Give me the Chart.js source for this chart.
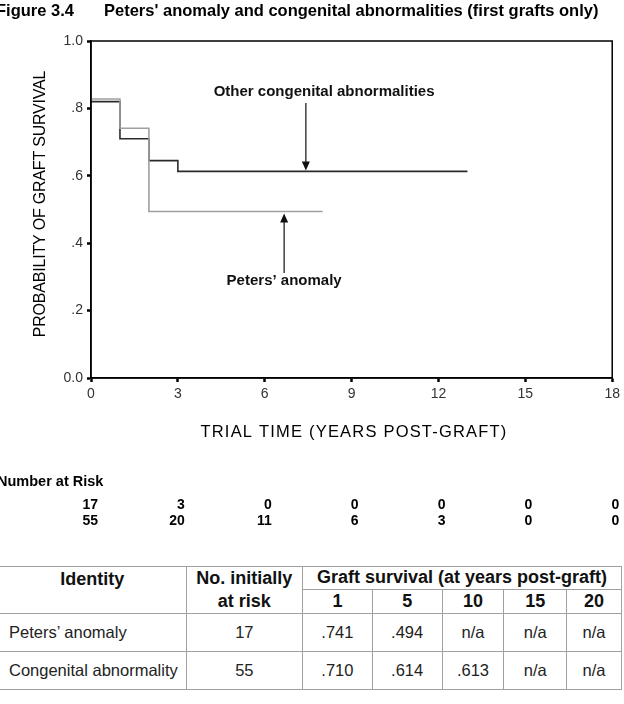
<!DOCTYPE html>
<html>
<head>
<meta charset="utf-8">
<script src="https://cdn.jsdelivr.net/npm/chart.js@4.4.1/dist/chart.umd.min.js"></script>
<style>
    body { margin: 0; background: #fff; width: 624px; height: 704px; overflow: hidden; position: relative; font-family: Arial, "Liberation Sans", sans-serif; }
    #wrap { position: absolute; left: 0; top: 0; width: 624px; height: 540px; }
    #survTable { position: absolute; left: -2px; top: 566px; border-collapse: collapse; font-size: 16.5px; color: #222; table-layout: fixed; }
    #survTable td, #survTable th { border: 1.5px solid #a0a0a0; text-align: center; padding: 0; white-space: nowrap; }
    #survTable th { font-weight: bold; font-size: 18px; color: #111; }
    #survTable td.name { text-align: left; padding-left: 10px; }
</style>
</head>
<body>
<div id="wrap"><canvas id="kmChart" width="624" height="540"></canvas></div>
<table id="survTable"></table>

<script>
// Kaplan-Meier step data
const petersTimes = [0, 1, 2, 8];
const petersSurvival = [0.828, 0.741, 0.494, 0.494];
const congTimes = [0, 1, 2, 3, 13];
const congSurvival = [0.820, 0.710, 0.645, 0.613, 0.613];

// Number at risk below the axis
const riskTimes = [0, 3, 6, 9, 12, 15, 18];
const petersRisk = [17, 3, 0, 0, 0, 0, 0];
const congRisk = [55, 20, 11, 6, 3, 0, 0];

// Summary table
const tableYears = [1, 5, 10, 15, 20];
const tableNames = ['Peters’ anomaly', 'Congenital abnormality'];
const tableAtRisk = [17, 55];
const petersTable = ['.741', '.494', 'n/a', 'n/a', 'n/a'];
const congTable = ['.710', '.614', '.613', 'n/a', 'n/a'];

const FONT = 'Arial, "Liberation Sans", sans-serif';
const NARROW = '"Liberation Sans Narrow", "Arial Narrow", Arial, sans-serif';

function toPoints(times, values) {
    return times.map((t, i) => ({ x: t, y: values[i] }));
}

function drawArrow(ctx, x, yFrom, yTo) {
    const dir = yTo > yFrom ? 1 : -1;
    ctx.beginPath();
    ctx.moveTo(x, yFrom);
    ctx.lineTo(x, yTo - dir * 8);
    ctx.stroke();
    ctx.beginPath();
    ctx.moveTo(x, yTo);
    ctx.lineTo(x - 4, yTo - dir * 9);
    ctx.lineTo(x + 4, yTo - dir * 9);
    ctx.closePath();
    ctx.fill();
}

const overlay = {
    id: 'overlay',
    afterDraw(chart) {
        const ctx = chart.ctx;
        const area = chart.chartArea;
        const xs = chart.scales.x;
        const ys = chart.scales.y;
        ctx.save();

        // full frame round the plot
        ctx.strokeStyle = '#000';
        ctx.lineWidth = 1.5;
        ctx.strokeRect(area.left, area.top, area.right - area.left, area.bottom - area.top);

        // figure title
        ctx.fillStyle = '#000';
        ctx.font = 'bold 16.5px ' + FONT;
        ctx.textBaseline = 'middle';
        ctx.textAlign = 'left';
        ctx.fillText('Figure 3.4', -4, 11);
        ctx.fillText('Peters\' anomaly and congenital abnormalities (first grafts only)', 104, 11);

        // curve labels and arrows
        ctx.fillStyle = '#111';
        ctx.strokeStyle = '#222';
        ctx.lineWidth = 1.3;
        ctx.font = 'bold 15px ' + FONT;
        ctx.textAlign = 'center';
        ctx.fillText('Other congenital abnormalities', xs.getPixelForValue(8.05), 92);
        drawArrow(ctx, xs.getPixelForValue(7.42), 103, ys.getPixelForValue(0.613) - 1);
        ctx.fillText('Peters’ anomaly', xs.getPixelForValue(6.67), 281);
        drawArrow(ctx, xs.getPixelForValue(6.67), 273, ys.getPixelForValue(0.494) + 2);

        // axis titles
        ctx.fillStyle = '#000';
        ctx.font = '16.5px ' + FONT;
        ctx.letterSpacing = '1.2px';
        ctx.fillText('TRIAL TIME (YEARS POST-GRAFT)', 354, 432);
        ctx.save();
        ctx.translate(41, 204);
        ctx.rotate(-Math.PI / 2);
        ctx.font = '16px ' + FONT;
        ctx.letterSpacing = '-0.2px';
        ctx.fillText('PROBABILITY OF GRAFT SURVIVAL', 0, 0);
        ctx.restore();
        ctx.letterSpacing = '0px';

        // number at risk
        ctx.font = 'bold 14.5px ' + FONT;
        ctx.textAlign = 'left';
        ctx.fillText('Number at Risk', -3, 482);
        ctx.font = 'bold 14px ' + NARROW;
        ctx.textAlign = 'right';
        riskTimes.forEach((t, i) => {
            const px = xs.getPixelForValue(t) + 7;
            ctx.fillText(String(petersRisk[i]), px, 505);
            ctx.fillText(String(congRisk[i]), px, 521);
        });
        ctx.restore();
    }
};

function initChart() {
    const ctx = document.getElementById('kmChart');
    new Chart(ctx, {
        type: 'line',
        data: {
            datasets: [{
                label: 'Peters’ anomaly',
                data: toPoints(petersTimes, petersSurvival),
                borderColor: '#a0a0a0',
                borderWidth: 1.6,
                stepped: true,
                pointRadius: 0,
                fill: false
            }, {
                label: 'Other congenital abnormalities',
                data: toPoints(congTimes, congSurvival),
                borderColor: '#2a2a2a',
                borderWidth: 1.6,
                stepped: true,
                pointRadius: 0,
                fill: false
            }]
        },
        options: {
            responsive: false,
            animation: false,
            devicePixelRatio: 1,
            layout: { padding: { left: 0, top: 41, right: 9, bottom: 136 } },
            plugins: {
                legend: { display: false },
                tooltip: { enabled: false }
            },
            scales: {
                x: {
                    type: 'linear',
                    min: 0,
                    max: 18,
                    ticks: { stepSize: 3, color: '#333', font: { size: 14, family: FONT }, padding: 4, maxRotation: 0 },
                    grid: { drawOnChartArea: false, tickLength: 4, tickWidth: 2.5, tickColor: '#000' },
                    border: { color: '#000', width: 1.5 },
                    afterFit: function(scale) { scale.height = 26; }
                },
                y: {
                    min: 0,
                    max: 1,
                    ticks: {
                        stepSize: 0.2,
                        color: '#333',
                        font: { size: 14, family: FONT },
                        padding: 4,
                        callback: function(value) {
                            const v = Math.round(value * 10);
                            if (v === 0) return '0.0';
                            if (v === 10) return '1.0';
                            return '.' + v;
                        }
                    },
                    grid: { drawOnChartArea: false, tickLength: 4, tickWidth: 2.5, tickColor: '#000' },
                    border: { color: '#000', width: 1.5 },
                    afterFit: function(scale) { scale.width = 91; }
                }
            }
        },
        plugins: [overlay]
    });
}

function buildTable() {
    const widths = [188, 117, 70, 70, 62, 63, 55];
    let html = '<colgroup>' + widths.map(w => `<col style="width:${w}px">`).join('') + '</colgroup>';
    html += `<tr style="height:22px">
        <th rowspan="2" style="vertical-align:top;line-height:24px">Identity</th>
        <th rowspan="2" style="vertical-align:top;line-height:23px">No. initially<br>at risk</th>
        <th colspan="${tableYears.length}">Graft survival (at years post-graft)</th>
    </tr>`;
    html += '<tr style="height:23px">' + tableYears.map(y => `<th>${y}</th>`).join('') + '</tr>';
    [petersTable, congTable].forEach((vals, r) => {
        html += `<tr style="height:38px"><td class="name">${tableNames[r]}</td><td>${tableAtRisk[r]}</td>` +
            vals.map(v => `<td>${v}</td>`).join('') + '</tr>';
    });
    document.getElementById('survTable').innerHTML = html;
}

document.addEventListener('DOMContentLoaded', function() {
    buildTable();
    initChart();
});
</script>
</body>
</html>
